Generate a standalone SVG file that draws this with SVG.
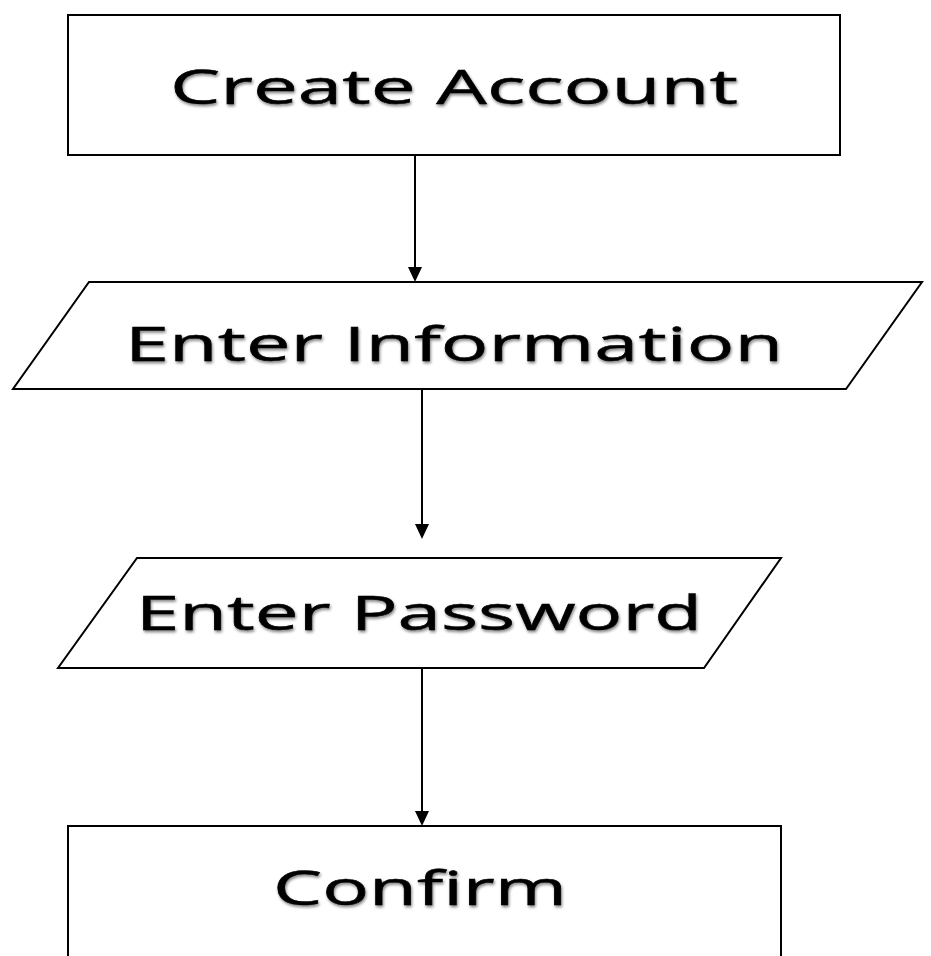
<svg xmlns="http://www.w3.org/2000/svg" width="931" height="956" viewBox="0 0 931 956">
<style>
.shape{fill:#ffffff;stroke:#000000;stroke-width:2}
.lbl{font-family:"Open Sans",Lato,"Liberation Sans",sans-serif;font-size:47px;fill:#000000;stroke:#000000;stroke-width:0.5;font-variant-ligatures:none}
.conn{stroke:#000000;stroke-width:2;fill:none}
.head{fill:#000000}
</style>
<defs>
<filter id="soft" x="-5%" y="-20%" width="110%" height="140%">
<feGaussianBlur in="SourceAlpha" stdDeviation="1.5"/>
<feOffset dx="1" dy="2" result="b"/>
<feComponentTransfer><feFuncA type="linear" slope="0.5"/></feComponentTransfer>
<feMerge><feMergeNode/><feMergeNode in="SourceGraphic"/></feMerge>
</filter>
</defs>
<rect width="931" height="956" fill="#ffffff"/>
<g id="connectors">
<path class="conn" d="M415,155 L415,268"/>
<path class="head" d="M408,267 L422,267 L415,282 Z"/>
<path class="conn" d="M422,389 L422,525"/>
<path class="head" d="M415,524 L429,524 L422,539 Z"/>
<path class="conn" d="M422,668 L422,813"/>
<path class="head" d="M415,811 L429,811 L422,826 Z"/>
</g>
<g id="node-create-account">
<rect class="shape" x="68" y="15" width="772" height="140"/>
<text class="lbl" x="170" y="104" textLength="568" lengthAdjust="spacingAndGlyphs" filter="url(#soft)">Create Account</text>
</g>
<g id="node-enter-information">
<polygon class="shape" points="89,282 922,282 846,389 13,389"/>
<text class="lbl" x="125" y="361" textLength="658" lengthAdjust="spacingAndGlyphs" filter="url(#soft)">Enter Information</text>
</g>
<g id="node-enter-password">
<polygon class="shape" points="137,558 781,558 704,668 58,668"/>
<text class="lbl" x="136" y="630" textLength="566" lengthAdjust="spacingAndGlyphs" filter="url(#soft)">Enter Password</text>
</g>
<g id="node-confirm">
<rect class="shape" x="68" y="826" width="713" height="150"/>
<text class="lbl" x="273" y="905" textLength="294" lengthAdjust="spacingAndGlyphs" filter="url(#soft)">Confirm</text>
</g>
</svg>
